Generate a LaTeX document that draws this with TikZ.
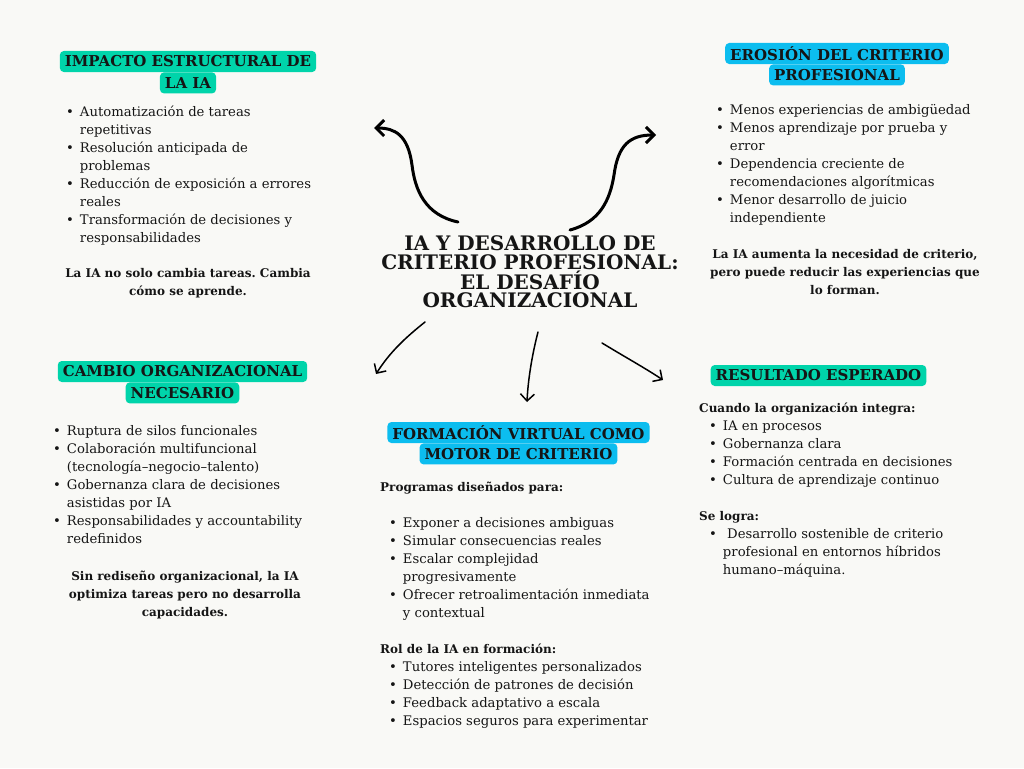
\documentclass[tikz,border=0pt]{standalone}
\usepackage{fontspec}
\setmainfont{DejaVu Serif}
\newfontfamily\titlefont{DejaVu Serif}
\usetikzlibrary{positioning,arrows.meta}
\definecolor{paper}{HTML}{F9F9F6}
\definecolor{mint}{HTML}{00D4AA}
\definecolor{sky}{HTML}{0CBDEF}
\definecolor{ink}{HTML}{151515}
\newcommand{\bodysize}{\fontsize{13.2}{18}\selectfont}
\newcommand{\notesize}{\fontsize{12}{18}\selectfont}
\newcommand{\itm}{\textbullet &}
\frenchspacing

\begin{document}
\begin{tikzpicture}[
    x=1pt,y=-1pt,
    head/.style={rounded corners=4pt,inner xsep=5pt,inner ysep=0pt,
                 minimum height=21pt,text=ink,font=\fontsize{15}{16}\selectfont\bfseries},
    mintbox/.style={head,fill=mint},
    skybox/.style={head,fill=sky},
    list/.style={anchor=north west,inner sep=0pt,text=ink,font=\bodysize},
    note/.style={anchor=north,inner sep=0pt,text=ink,font=\notesize\bfseries},
    bigarr/.style={-{Straight Barb[length=8pt,width=16pt]},line width=3pt,line cap=round},
    thinarr/.style={-{Straight Barb[length=7pt,width=14pt]},line width=1.5pt,line cap=round},
  ]
    \fill[paper] (0,0) rectangle (1024,768);
    \useasboundingbox (0,0) rectangle (1024,768);

    % centre title
    \node[inner sep=0pt,align=center,text=ink,
          font=\titlefont\fontsize{20}{18.7}\selectfont\bfseries] (title) at (530,272)
      {IA Y DESARROLLO DE\\CRITERIO PROFESIONAL:\\EL DESAFÍO\\ORGANIZACIONAL};

    % headings
    \node[mintbox] (impA) at (188,61.5) {IMPACTO ESTRUCTURAL DE};
    \node[mintbox,below=0pt of impA] (impB) {LA IA};
    \node[skybox] (eroA) at (837,53.5) {EROSIÓN DEL CRITERIO};
    \node[skybox,below=0pt of eroA] (eroB) {PROFESIONAL};
    \node[mintbox] (camA) at (182.5,371.5) {CAMBIO ORGANIZACIONAL};
    \node[mintbox,below=0pt of camA] (camB) {NECESARIO};
    \node[skybox] (forA) at (518.5,432.5) {FORMACIÓN VIRTUAL COMO};
    \node[skybox,below=0pt of forA] (forB) {MOTOR DE CRITERIO};
    \node[mintbox] (res) at (818.5,375.5) {RESULTADO ESPERADO};

    % impacto
    \node[list] (impL) at (66,103.4) {\begin{tabular}{@{}c@{\hspace{6pt}}l@{}}
      \itm Automatización de tareas\\ & repetitivas\\
      \itm Resolución anticipada de\\ & problemas\\
      \itm Reducción de exposición a errores\\ & reales\\
      \itm Transformación de decisiones y\\ & responsabilidades
    \end{tabular}};
    \node[note] (impN) at (188,264.4) {\begin{tabular}{@{}c@{}}
      La IA no solo cambia tareas. Cambia\\ cómo se aprende.
    \end{tabular}};

    % erosion
    \node[list] (eroL) at (716,101.4) {\begin{tabular}{@{}c@{\hspace{6pt}}l@{}}
      \itm Menos experiencias de ambigüedad\\
      \itm Menos aprendizaje por prueba y\\ & error\\
      \itm Dependencia creciente de\\ & recomendaciones algorítmicas\\
      \itm Menor desarrollo de juicio\\ & independiente
    \end{tabular}};
    \node[note] (eroN) at (845,245.4) {\begin{tabular}{@{}c@{}}
      La IA aumenta la necesidad de criterio,\\ pero puede reducir las experiencias que\\ lo forman.
    \end{tabular}};

    % cambio
    \node[list] (camL) at (53,422.4) {\begin{tabular}{@{}c@{\hspace{6pt}}l@{}}
      \itm Ruptura de silos funcionales\\
      \itm Colaboración multifuncional\\ & (tecnología–negocio–talento)\\
      \itm Gobernanza clara de decisiones\\ & asistidas por IA\\
      \itm Responsabilidades y accountability\\ & redefinidos
    \end{tabular}};
    \node[note] (camN) at (185,567.4) {\begin{tabular}{@{}c@{}}
      Sin rediseño organizacional, la IA\\ optimiza tareas pero no desarrolla\\ capacidades.
    \end{tabular}};

    % formacion
    \node[list] (forL) at (380,478.4) {\begin{tabular}{@{\hspace{9pt}}c@{\hspace{6pt}}l@{}}
      \multicolumn{2}{@{}l}{\notesize\bfseries Programas diseñados para:}\\[18pt]
      \itm Exponer a decisiones ambiguas\\
      \itm Simular consecuencias reales\\
      \itm Escalar complejidad\\ & progresivamente\\
      \itm Ofrecer retroalimentación inmediata\\ & y contextual\\[18pt]
      \multicolumn{2}{@{}l}{\notesize\bfseries Rol de la IA en formación:}\\
      \itm Tutores inteligentes personalizados\\
      \itm Detección de patrones de decisión\\
      \itm Feedback adaptativo a escala\\
      \itm Espacios seguros para experimentar
    \end{tabular}};

    % resultado
    \node[list] (resL) at (699,399.4) {\begin{tabular}{@{\hspace{10pt}}c@{\hspace{6pt}}l@{}}
      \multicolumn{2}{@{}l}{\notesize\bfseries Cuando la organización integra:}\\
      \itm IA en procesos\\
      \itm Gobernanza clara\\
      \itm Formación centrada en decisiones\\
      \itm Cultura de aprendizaje continuo\\[18pt]
      \multicolumn{2}{@{}l}{\notesize\bfseries Se logra:}\\
      \itm \ Desarrollo sostenible de criterio\\ & profesional en entornos híbridos\\ & humano–máquina.
    \end{tabular}};

    % arrows out of the title
    \coordinate (tlS) at (458,222);
    \coordinate (tlE) at (374,128);
    \coordinate (trS) at (570,230);
    \coordinate (trE) at (656,135);
    \coordinate (blS) at (425,322);
    \coordinate (blE) at (376,374);
    \coordinate (mdS) at (538,332);
    \coordinate (mdE) at (527,402);
    \coordinate (brS) at (602,343);
    \coordinate (brE) at (663,380);
    \draw[bigarr] (tlS) .. controls (425,215) and (415,190) .. (412,165)
                        .. controls (408,135) and (395,128) .. (tlE);
    \draw[bigarr] (trS) .. controls (600,222) and (610,200) .. (614,175)
                        .. controls (618,145) and (630,135) .. (trE);
    \draw[thinarr] (blS) .. controls (405,338) and (390,352) .. (blE);
    \draw[thinarr] (mdS) .. controls (532,355) and (528,380) .. (mdE);
    \draw[thinarr] (brS) .. controls (625,357) and (645,368) .. (brE);
  \end{tikzpicture}
\end{document}
